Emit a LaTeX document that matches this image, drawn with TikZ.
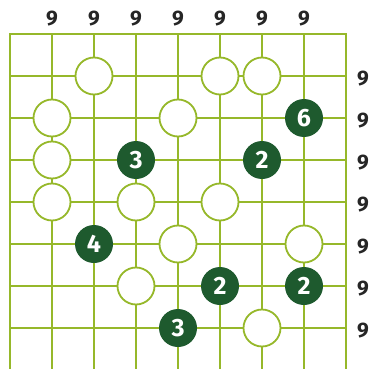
\documentclass[tikz,border=0pt]{standalone}
\usepackage{fontspec}
\setmainfont{Fira Sans}
\definecolor{grille}{RGB}{150,184,42}
\definecolor{pion}{RGB}{30,90,46}
\begin{document}
\begin{tikzpicture}[x=1pt, y=-1pt,
    vide/.style={circle, draw=grille, line width=1.8pt, fill=white, minimum size=37pt, inner sep=0pt},
    plein/.style={circle, fill=pion, minimum size=38pt, inner sep=0pt, text=white, font=\bfseries\fontsize{25}{25}\selectfont},
    indice/.style={font=\bfseries\fontsize{21}{21}\selectfont, text=black!85}]
            % Cadre
            \useasboundingbox (0,0) rectangle (368,369);

            % Grille
            \draw[grille, line width=1.8pt] (10,369) -- (10,34) -- (346,34) -- (346,369);
            \foreach \x in {52,94,...,304}
                \draw[grille, line width=1.8pt] (\x,34) -- (\x,369);
            \foreach \y in {76,118,...,328}
                \draw[grille, line width=1.8pt] (10,\y) -- (346,\y);

            % Indices du haut et de droite
            \foreach \x [count=\i] in {52,94,...,304}
                \node[indice] (h\i) at (\x,19) {9};
            \foreach \y [count=\j] in {76,118,...,328}
                \node[indice] (d\j) at (363,\y+3) {9};

            % Cercles blancs
            \node[vide] (b12) at (94,76) {};
            \node[vide] (b15) at (220,76) {};
            \node[vide] (b16) at (262,76) {};
            \node[vide] (b21) at (52,118) {};
            \node[vide] (b24) at (178,118) {};
            \node[vide] (b31) at (52,160) {};
            \node[vide] (b41) at (52,202) {};
            \node[vide] (b43) at (136,202) {};
            \node[vide] (b45) at (220,202) {};
            \node[vide] (b54) at (178,244) {};
            \node[vide] (b57) at (304,244) {};
            \node[vide] (b63) at (136,286) {};
            \node[vide] (b76) at (262,328) {};

            % Cercles numérotés
            \node[plein] (n27) at (304,118) {6};
            \node[plein] (n33) at (136,160) {3};
            \node[plein] (n36) at (262,160) {2};
            \node[plein] (n52) at (94,244) {4};
            \node[plein] (n65) at (220,286) {2};
            \node[plein] (n67) at (304,286) {2};
            \node[plein] (n74) at (178,328) {3};
        \end{tikzpicture}
\end{document}
